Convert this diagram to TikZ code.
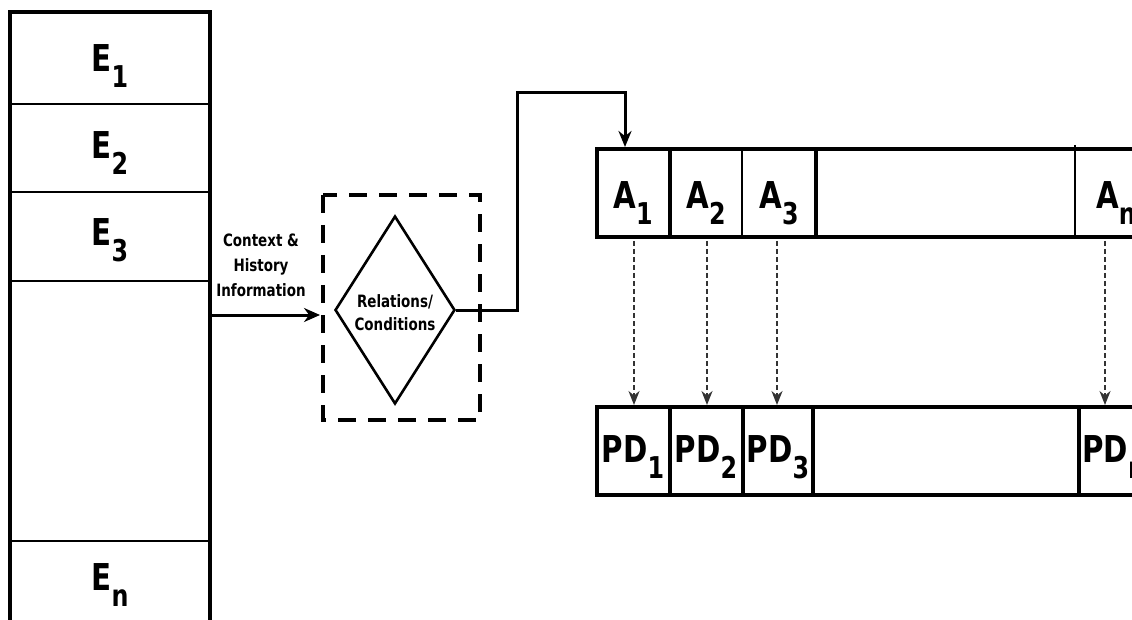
\documentclass[tikz,border=0pt]{standalone}
\usepackage{fontspec}
\setmainfont{DejaVu Sans Condensed}[FakeStretch=0.88]
\usetikzlibrary{arrows.meta,shapes.geometric}
\newcommand{\lbl}[2]{#1\raisebox{-0.42em}{\fontsize{30}{30}\selectfont #2}}
\begin{document}
\begin{tikzpicture}[x=1pt,y=-1pt,
  thick line/.style={line width=4pt},
  thin line/.style={line width=2.2pt},
  big/.style={font=\fontsize{37}{40}\selectfont\bfseries, inner sep=0pt},
  small/.style={font=\fontsize{17}{20}\selectfont\bfseries, align=center, inner sep=0pt},
  solidarrow/.style={line width=3pt, -{Stealth[length=16pt,width=14pt]}},
  dotarrow/.style={line width=2pt, draw=black!80, dash pattern=on 5pt off 3pt, -{Stealth[length=14pt,width=11pt]}}
]
\useasboundingbox (0,0) rectangle (1132,620);
\clip (0,0) rectangle (1132,620);
% left column
\draw[thick line] (10,640) -- (10,12) -- (210,12) -- (210,640);
\foreach \y in {104,192,281,541} \draw[thin line] (10,\y) -- (210,\y);
\node[big] (e1) at (110,66) {\lbl{E}{1}};
\node[big] (e2) at (110,153) {\lbl{E}{2}};
\node[big] (e3) at (110,240) {\lbl{E}{3}};
\node[big] (en) at (110,585) {\lbl{E}{n}};
\coordinate (colR) at (210,315);
% context text
\node[small] (ctx) at (261,265) {Context \&\\[5pt]History\\[5pt]Information};
% dashed box and diamond
\draw[line width=4pt, dash pattern=on 18pt off 12pt] (323,195) rectangle (480,420);
\node[draw, line width=2.6pt, diamond, minimum width=120pt, minimum height=188pt, aspect=0.64, inner sep=0pt] (dia) at (395,310) {};
\node[small] (rel) at (395,313) {Relations/\\[3pt]Conditions};
\coordinate (dbox) at (320,315);
\draw[solidarrow] (colR) -- (dbox);
% A row
\draw[thick line] (1140,149) -- (597,149) -- (597,237) -- (1140,237);
\draw[thick line] (670,149) -- (670,237);
\draw[thin line] (742,149) -- (742,237);
\draw[thick line] (816,149) -- (816,237);
\draw[thin line] (1075,145) -- (1075,237);
\node[big] (a1) at (633,203) {\lbl{A}{1}};
\node[big] (a2) at (706,203) {\lbl{A}{2}};
\node[big] (a3) at (779,203) {\lbl{A}{3}};
\node[big,anchor=west] (an) at (1096,203) {\lbl{A}{n}};
% PD row
\draw[thick line] (1140,407) -- (597,407) -- (597,495) -- (1140,495);
\foreach \x in {670,743,813,1079} \draw[thick line] (\x,407) -- (\x,495);
\node[big] (pd1) at (633,457) {\lbl{PD}{1}};
\node[big] (pd2) at (706,457) {\lbl{PD}{2}};
\node[big] (pd3) at (778,457) {\lbl{PD}{3}};
\node[big,anchor=west] (pdn) at (1082,457) {\lbl{PD}{n}};
% connector diamond -> A1
\coordinate (a1top) at (625,147);
\draw[line width=3pt, -{Stealth[length=16pt,width=13pt]}] (dia.east) -- (517,310) -- (517,93) -- (625,93) -- (a1top);
% dotted arrows
\foreach \x in {634,707,777,1105} \draw[dotarrow] (\x,241) -- (\x,405);
\end{tikzpicture}
\end{document}
